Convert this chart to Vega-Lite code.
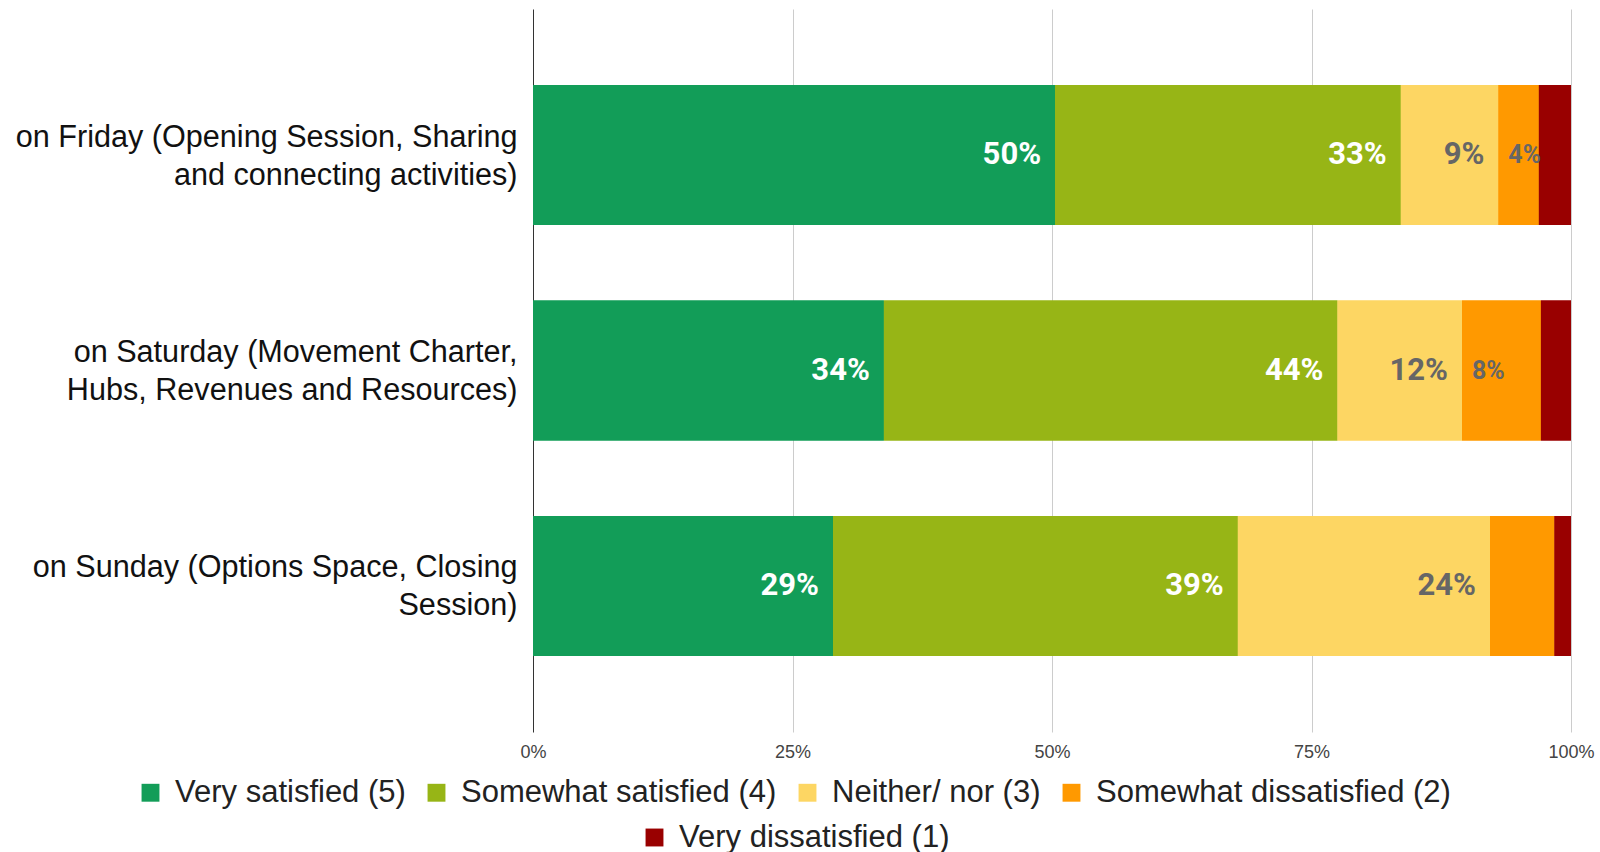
{
  "$schema": "https://vega.github.io/schema/vega-lite/v6.json",
  "width": 1038,
  "height": 723,
  "autosize": {"type": "none"},
  "padding": {"left": 533, "top": 9, "right": 29, "bottom": 120},
  "background": "white",
  "config": {
    "view": {"stroke": null},
    "font": "Liberation Sans"
  },
  "data": {
    "values": [
      {"day": "on Friday (Opening Session, Sharing\nand connecting activities)", "category": "Very satisfied (5)", "score": 5, "value": 0.503, "label": "50%"},
      {"day": "on Friday (Opening Session, Sharing\nand connecting activities)", "category": "Somewhat satisfied (4)", "score": 4, "value": 0.333, "label": "33%"},
      {"day": "on Friday (Opening Session, Sharing\nand connecting activities)", "category": "Neither/ nor (3)", "score": 3, "value": 0.094, "label": "9%"},
      {"day": "on Friday (Opening Session, Sharing\nand connecting activities)", "category": "Somewhat dissatisfied (2)", "score": 2, "value": 0.039, "label": "4%"},
      {"day": "on Friday (Opening Session, Sharing\nand connecting activities)", "category": "Very dissatisfied (1)", "score": 1, "value": 0.031, "label": ""},
      {"day": "on Saturday (Movement Charter,\nHubs, Revenues and Resources)", "category": "Very satisfied (5)", "score": 5, "value": 0.338, "label": "34%"},
      {"day": "on Saturday (Movement Charter,\nHubs, Revenues and Resources)", "category": "Somewhat satisfied (4)", "score": 4, "value": 0.437, "label": "44%"},
      {"day": "on Saturday (Movement Charter,\nHubs, Revenues and Resources)", "category": "Neither/ nor (3)", "score": 3, "value": 0.120, "label": "12%"},
      {"day": "on Saturday (Movement Charter,\nHubs, Revenues and Resources)", "category": "Somewhat dissatisfied (2)", "score": 2, "value": 0.076, "label": "8%"},
      {"day": "on Saturday (Movement Charter,\nHubs, Revenues and Resources)", "category": "Very dissatisfied (1)", "score": 1, "value": 0.029, "label": ""},
      {"day": "on Sunday (Options Space, Closing\nSession)", "category": "Very satisfied (5)", "score": 5, "value": 0.289, "label": "29%"},
      {"day": "on Sunday (Options Space, Closing\nSession)", "category": "Somewhat satisfied (4)", "score": 4, "value": 0.390, "label": "39%"},
      {"day": "on Sunday (Options Space, Closing\nSession)", "category": "Neither/ nor (3)", "score": 3, "value": 0.243, "label": "24%"},
      {"day": "on Sunday (Options Space, Closing\nSession)", "category": "Somewhat dissatisfied (2)", "score": 2, "value": 0.062, "label": ""},
      {"day": "on Sunday (Options Space, Closing\nSession)", "category": "Very dissatisfied (1)", "score": 1, "value": 0.016, "label": ""}
    ]
  },
  "transform": [
    {"stack": "value", "groupby": ["day"], "sort": [{"field": "score", "order": "descending"}], "as": ["v0", "v1"]}
  ],
  "encoding": {
    "y": {
      "field": "day", "type": "nominal", "sort": null, "title": null,
      "scale": {"paddingInner": 0.35, "paddingOuter": 0.353},
      "axis": {
        "domain": false, "ticks": false, "grid": false,
        "labelExpr": "split(datum.label, '\\n')",
        "labelFont": "Liberation Sans", "labelFontSize": 30.6, "labelColor": "#111111",
        "labelLineHeight": 38, "labelPadding": 16, "labelLimit": 0, "labelAlign": "right",
        "labelOffset": -17.5
      }
    }
  },
  "layer": [
    {
      "mark": {"type": "bar"},
      "encoding": {
        "x": {
          "field": "v0", "type": "quantitative", "title": null,
          "scale": {"domain": [0, 1], "nice": false, "zero": true},
          "axis": {
            "values": [0, 0.25, 0.5, 0.75, 1], "format": ".0%",
            "domain": false, "ticks": false, "grid": true,
            "gridColor": {"condition": {"test": "datum.value === 0", "value": "#333333"}, "value": "#cccccc"},
            "gridWidth": 1,
            "labelFont": "Liberation Sans", "labelFontSize": 18, "labelColor": "#444444", "labelPadding": 11,
            "labelFlush": false
          }
        },
        "x2": {"field": "v1"},
        "color": {
          "field": "category", "type": "nominal", "title": null,
          "scale": {
            "domain": ["Very satisfied (5)", "Somewhat satisfied (4)", "Neither/ nor (3)", "Somewhat dissatisfied (2)", "Very dissatisfied (1)"],
            "range": ["#129D58", "#97B516", "#FDD663", "#FF9900", "#990000"]
          },
          "legend": {
            "orient": "none", "legendX": -398, "legendY": 768, "direction": "horizontal",
            "values": ["Very satisfied (5)", "Somewhat satisfied (4)", "Neither/ nor (3)", "Somewhat dissatisfied (2)"],
            "symbolType": "square", "symbolSize": 320, "symbolStrokeWidth": 0,
            "labelFont": "Liberation Sans", "labelFontSize": 31, "labelColor": "#222222",
            "labelOffset": 9, "columnPadding": 15, "labelLimit": 0, "padding": 0
          }
        }
      }
    },
    {
      "mark": {"type": "bar"},
      "encoding": {
        "x": {"field": "v0", "type": "quantitative"},
        "x2": {"field": "v1"},
        "color": {
          "field": "category", "type": "nominal", "title": null,
          "scale": {
            "domain": ["Very satisfied (5)", "Somewhat satisfied (4)", "Neither/ nor (3)", "Somewhat dissatisfied (2)", "Very dissatisfied (1)"],
            "range": ["#129D58", "#97B516", "#FDD663", "#FF9900", "#990000"]
          },
          "legend": {
            "orient": "none", "legendX": 106, "legendY": 813, "direction": "horizontal",
            "values": ["Very dissatisfied (1)"],
            "symbolType": "square", "symbolSize": 320, "symbolStrokeWidth": 0,
            "labelFont": "Liberation Sans", "labelFontSize": 31, "labelColor": "#222222",
            "labelOffset": 9, "labelLimit": 0, "padding": 0
          }
        }
      }
    },
    {
      "transform": [{"filter": "datum.score >= 4 && datum.label != ''"}],
      "mark": {"type": "text", "font": "Roboto", "fontWeight": "bold", "fontSize": 31, "align": "right", "baseline": "middle", "dx": -14, "fill": "#ffffff"},
      "encoding": {
        "x": {"field": "v1", "type": "quantitative"},
        "text": {"field": "label"}
      }
    },
    {
      "transform": [{"filter": "datum.score < 4 && datum.value >= 0.085 && datum.label != ''"}],
      "mark": {"type": "text", "font": "Roboto", "fontWeight": "bold", "fontSize": 31, "align": "right", "baseline": "middle", "dx": -14, "fill": "#666666"},
      "encoding": {
        "x": {"field": "v1", "type": "quantitative"},
        "text": {"field": "label"}
      }
    },
    {
      "transform": [{"filter": "datum.score < 4 && datum.value < 0.085 && datum.label != ''"}],
      "mark": {"type": "text", "font": "Roboto", "fontWeight": "bold", "fontSize": 25, "align": "left", "baseline": "middle", "dx": 10, "fill": "#666666"},
      "encoding": {
        "x": {"field": "v0", "type": "quantitative"},
        "text": {"field": "label"}
      }
    }
  ],
  "resolve": {"scale": {"color": "independent"}, "legend": {"color": "independent"}}
}
